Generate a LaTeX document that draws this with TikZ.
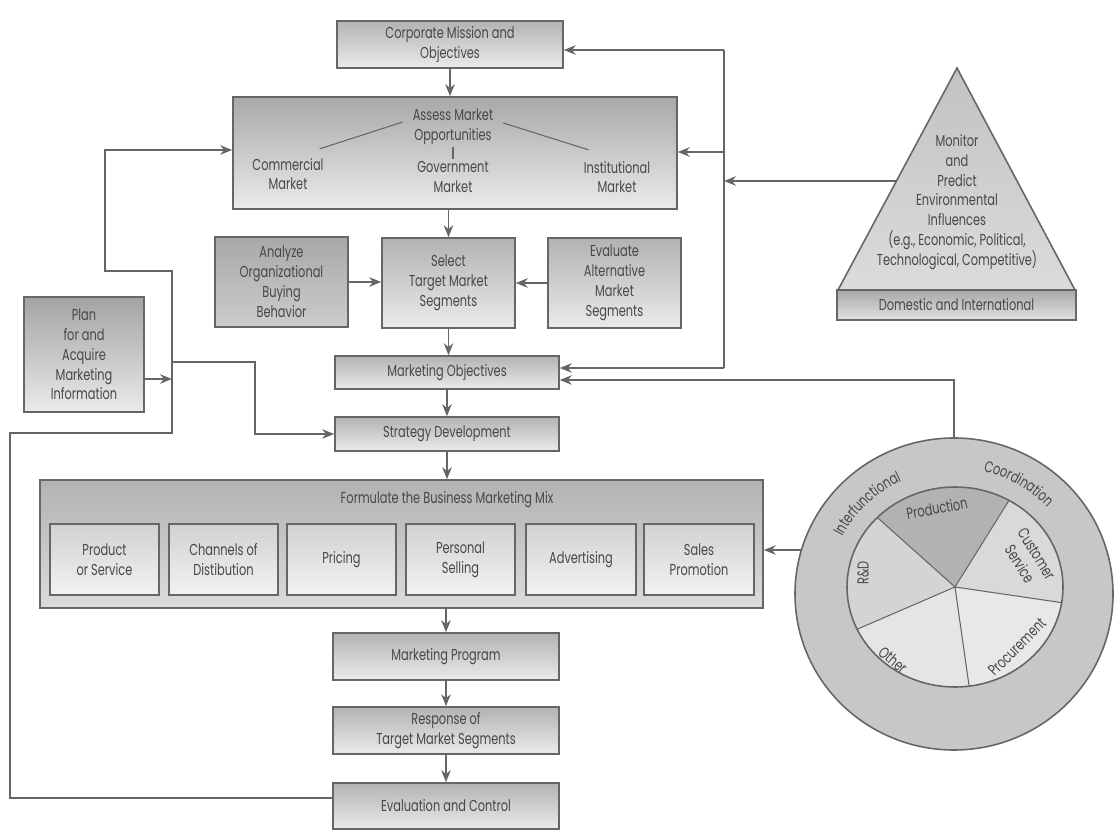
\documentclass[tikz,border=0pt]{standalone}
\usepackage{fontspec}
\setmainfont[FakeStretch=0.72]{Poppins}
\usetikzlibrary{arrows.meta,shapes.geometric,calc,decorations.text}
\definecolor{linec}{gray}{0.40}
\definecolor{textc}{gray}{0.28}
\newcommand\fs{\fontsize{9}{11.3}\selectfont}
\tikzset{
  sz/.style 2 args={minimum width=#1*0.02cm, minimum height=#2*0.02cm},
  box/.style={draw=linec, line width=0.9pt, top color=black!30, bottom color=black!8,
    text=textc, align=center, inner sep=1pt, font=\fs},
  inbox/.style={box, top color=black!18, bottom color=black!5},
  txt/.style={text=textc, align=center, inner sep=1pt, font=\fs},
  ln/.style={draw=linec, line width=0.9pt},
  thinln/.style={draw=linec, line width=0.6pt},
  arr/.style={draw=linec, line width=0.9pt, -{Stealth[length=2.4mm, width=1.9mm]}},
}
\begin{document}
\begin{tikzpicture}[x=0.02cm, y=-0.02cm]
\useasboundingbox (0,0) rectangle (1116,837);
\fill[white] (0,0) rectangle (1116,837);

% main column
\node[box, sz={226}{47}] (corp) at (450,44.5) {Corporate Mission and\\Objectives};
\node[box, sz={444}{112}, top color=black!34] (assess) at (455,153) {};
\node[txt] (atitle) at (453,127) {Assess Market\\Opportunities};
\node[txt] (comm) at (288,174) {Commercial\\Market};
\node[txt] (govt) at (453,177) {Government\\Market};
\node[txt] (inst) at (617,177) {Institutional\\Market};
\draw[thinln] ($(atitle.west)+(-8,-5)$) -- ($(comm.north east)+(-6,-7)$);
\draw[thinln] ($(atitle.east)+(8,-4)$) -- ($(inst.north west)+(7,-9)$);
\draw[thinln] (atitle.south) -- (govt.north);

\node[box, sz={133}{90}, top color=black!34, bottom color=black!20] (analyze) at (281.5,282) {Analyze\\Organizational\\Buying\\Behavior};
\node[box, sz={133}{90}] (select) at (448.5,283) {Select\\Target Market\\Segments};
\node[box, sz={133}{90}] (evaluate) at (614.5,283) {Evaluate\\Alternative\\Market\\Segments};
\node[box, sz={120}{115}, top color=black!36] (plan) at (84,354.5) {Plan\\for and\\Acquire\\Marketing\\Information};
\node[box, sz={224}{33}] (mobj) at (447,372.5) {Marketing Objectives};
\node[box, sz={224}{34}] (strat) at (447,434) {Strategy Development};

\node[box, sz={723}{128}, top color=black!30, bottom color=black!14] (form) at (401.5,544) {};
\node[txt] (ftitle) at (447,500) {Formulate the Business Marketing Mix};
\node[inbox, sz={109}{71}] (prod) at (104.5,559.5) {Product\\or Service};
\node[inbox, sz={109}{71}] (chan) at (223.5,559.5) {Channels of\\Distibution};
\node[inbox, sz={109}{71}] (pric) at (341.5,559.5) {Pricing};
\node[inbox, sz={109}{71}] (pers) at (460.5,559.5) {Personal\\Selling};
\node[inbox, sz={110}{71}] (adv) at (581,559.5) {Advertising};
\node[inbox, sz={110}{71}] (sales) at (699,559.5) {Sales\\Promotion};

\node[box, sz={226}{47}] (mprog) at (446,656.5) {Marketing Program};
\node[box, sz={226}{47}] (resp) at (446,730.5) {Response of\\Target Market Segments};
\node[box, sz={226}{46}] (evalc) at (446,806) {Evaluation and Control};

% vertical flow
\draw[arr] (corp.south) -- (corp.south |- assess.north);
\draw[ln] (select.north |- assess.south) -- ++(0,14);
\draw[arr] ($(select.north)+(0,-16)$) -- (select.north);
\draw[arr] (select.south) -- (select.south |- mobj.north);
\draw[arr] (mobj.south) -- (strat.north);
\draw[arr] (strat.south) -- (strat.south |- form.north);
\draw[arr] (mprog.north |- form.south) -- (mprog.north);
\draw[arr] (mprog.south) -- (resp.north);
\draw[arr] (resp.south) -- (evalc.north);
\draw[arr] (analyze.east) -- (analyze.east -| select.west);
\draw[arr] (evaluate.west) -- (evaluate.west -| select.east);

% left feedback loops
\coordinate (colL) at (172,379);
\draw[arr] ($(evalc.west)+(0,-8)$) -| (10,433) -- (172,433) -- (172,271) -- (105,271) |- ($(assess.west)+(0,-3)$);
\draw[arr] ($(plan.east)+(0,24.5)$) -- (colL);
\draw[arr] (172,362) -- (255,362) |- (strat.west);

% environment triangle
\draw[linec, line width=0.9pt, top color=black!24, bottom color=black!14] (957,68) -- (1075,290) -- (838,290) -- cycle;
\coordinate (triL) at (896,181);
\node[txt] (tritext) at (957,202) {Monitor\\and\\Predict\\Environmental\\Influences\\(e.g., Economic, Political,\\Technological, Competitive)};
\node[box, sz={239}{30}, top color=black!34, bottom color=black!12] (dom) at (956.5,305) {Domestic and International};

% bus on the right
\coordinate (busT) at (724,50);
\coordinate (busA) at (724,152);
\coordinate (busE) at (724,181);
\coordinate (busB) at (724,368);
\draw[ln] (busT) -- (busB);
\draw[arr] (busT) -- (busT -| corp.east);
\draw[arr] (busA) -- (busA -| assess.east);
\draw[arr] (busB) -- (busB -| mobj.east);
\draw[arr] (triL) -- (busE);

% interfunctional coordination wheel
\node[ellipse, draw=linec, line width=0.9pt, fill=black!22, sz={318}{312}, inner sep=0pt] (ring) at (954,594) {};
\draw[arr] (ring.north) |- ($(mobj.east)+(0,7.5)$);
\draw[arr] (ring.164) -- (ring.164 -| form.east);

\begin{scope}[shift={(954,594)}, y=0.02cm]
  \fill[black!30] (1,7) -- ([shift={(1,7)}]60:108 and 100) arc[start angle=60, end angle=136, x radius=108, y radius=100] -- cycle;
  \fill[black!17] (1,7) -- ([shift={(1,7)}]136:108 and 100) arc[start angle=136, end angle=205, x radius=108, y radius=100] -- cycle;
  \fill[black!10] (1,7) -- ([shift={(1,7)}]205:108 and 100) arc[start angle=205, end angle=277.5, x radius=108, y radius=100] -- cycle;
  \fill[black!9] (1,7) -- ([shift={(1,7)}]277.5:108 and 100) arc[start angle=277.5, end angle=351, x radius=108, y radius=100] -- cycle;
  \fill[black!15] (1,7) -- ([shift={(1,7)}]351:108 and 100) arc[start angle=351, end angle=420, x radius=108, y radius=100] -- cycle;
  \draw[ln] (1,7) ellipse [x radius=108, y radius=100];
  \foreach \a in {60,136,205,277.5,351}
    \draw[thinln] (1,7) -- ([shift={(1,7)}]\a:108 and 100);
  \node[txt, rotate=10] (prodn) at (-17,86) {Production};
  \node[txt, rotate=-58] (cust) at (74,35) {Customer\\Service};
  \node[txt, rotate=90] (rd) at (-91,21) {R\&D};
  \node[txt, rotate=-40] (other) at (-61,-66) {Other};
  \node[txt, rotate=45] (proc) at (63,-53) {Procurement};
  \path[decorate, decoration={text along path, text={|\fs\color{textc}|Interfunctional}, text align=center}]
    (160:126 and 124) arc[start angle=160, end angle=107, x radius=126, y radius=124];
  \path[decorate, decoration={text along path, text={|\fs\color{textc}|Coordination}, text align=center}]
    (83:128 and 126) arc[start angle=83, end angle=37, x radius=128, y radius=126];
\end{scope}
\end{tikzpicture}
\end{document}
